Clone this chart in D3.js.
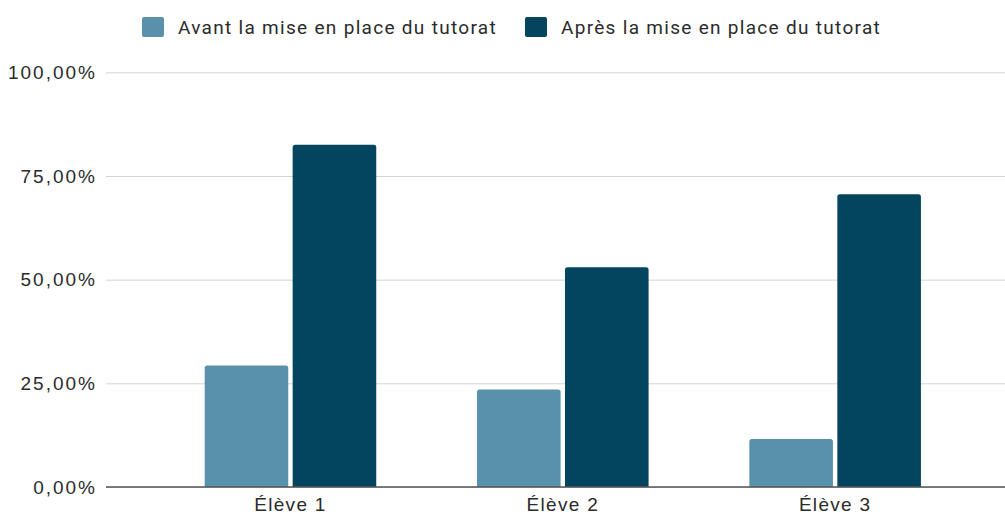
<!DOCTYPE html>
<html>
<head>
<meta charset="utf-8">
<script src="https://cdn.jsdelivr.net/npm/d3@7"></script>
<style>
  body { margin: 0; background: #fff; }
  svg { display: block; font-family: Roboto, "Noto Sans", sans-serif; }
</style>
</head>
<body>
<svg id="chart" width="1005" height="515"></svg>
<script>
'use strict';

const categories = ['Élève 1', 'Élève 2', 'Élève 3'];
const seriesNames = ['Avant la mise en place du tutorat', 'Après la mise en place du tutorat'];
const avant = [29.3, 23.5, 11.6];
const apres = [82.5, 53.0, 70.6];
const yTicks = [0, 25, 50, 75, 100];
const colors = ['#5991ad', '#03455f'];

const svg = d3.select('#chart');
const gridLeft = 106, gridRight = 1005;
const plotTop = 72.3, plotBottom = 487;

const y = d3.scaleLinear().domain([0, 100]).range([plotBottom, plotTop]);

const x0 = d3.scaleBand()
	.domain(categories)
	.range([154.3, 971.3])
	.paddingInner(0.37)
	.paddingOuter(0.185);

const x1 = d3.scaleBand()
	.domain(seriesNames)
	.range([0, x0.bandwidth()])
	.paddingInner(0.05);

const fmt = v => d3.format('.2f')(v).replace('.', ',') + '%';

// gridlines + tick labels
let yAxis = d3.axisLeft(y)
	.tickValues(yTicks)
	.tickSize(-(gridRight - gridLeft))
	.tickPadding(9)
	.tickFormat(fmt);

let ag = svg.append('g')
	.attr('transform', `translate(${gridLeft},0)`)
	.call(yAxis);
ag.select('.domain').remove();
ag.selectAll('.tick line').attr('stroke', '#d4d4d4').attr('stroke-width', 1);
ag.selectAll('.tick text')
	.attr('fill', '#2b2b2b')
	.style('font-size', '19px')
	.style('letter-spacing', '2px');

// bars, rounded on top only
let rows = categories.map((c, i) => ({cat: c, vals: [avant[i], apres[i]]}));
let r = 2.5;
let barPath = (bx, by, bw, bh) => {
	return `M${bx},${by + bh}V${by + r}Q${bx},${by} ${bx + r},${by}` +
		`H${bx + bw - r}Q${bx + bw},${by} ${bx + bw},${by + r}V${by + bh}Z`;
};

svg.append('g').selectAll('g')
	.data(rows)
	.join('g')
	.attr('transform', d => `translate(${x0(d.cat)},0)`)
	.selectAll('path')
	.data(d => d.vals.map((v, k) => ({name: seriesNames[k], v, k})))
	.join('path')
	.attr('fill', d => colors[d.k])
	.attr('d', d => barPath(x1(d.name), y(d.v), x1.bandwidth(), plotBottom - y(d.v)));

// baseline
svg.append('line')
	.attr('x1', gridLeft).attr('x2', gridRight)
	.attr('y1', plotBottom).attr('y2', plotBottom)
	.attr('stroke', '#555').attr('stroke-width', 1.5);

// category labels
let xAxis = d3.axisBottom(x0).tickSize(0).tickPadding(11);
let xg = svg.append('g')
	.attr('transform', `translate(0,${plotBottom})`)
	.call(xAxis);
xg.select('.domain').remove();
xg.selectAll('.tick text')
	.attr('fill', '#2b2b2b')
	.style('font-size', '19px')
	.style('letter-spacing', '1.3px');

// legend
let legendX = [142, 525];
let lg = svg.append('g').selectAll('g')
	.data(seriesNames)
	.join('g')
	.attr('transform', (d, i) => `translate(${legendX[i]},17)`);

lg.append('rect')
	.attr('width', 22).attr('height', 20)
	.attr('rx', 2)
	.attr('fill', (d, i) => colors[i]);

lg.append('text')
	.attr('x', 36).attr('y', 17)
	.attr('fill', '#2b2b2b')
	.style('font-size', '19px')
	.style('letter-spacing', '1.3px')
	.text(d => d);
</script>
</body>
</html>
